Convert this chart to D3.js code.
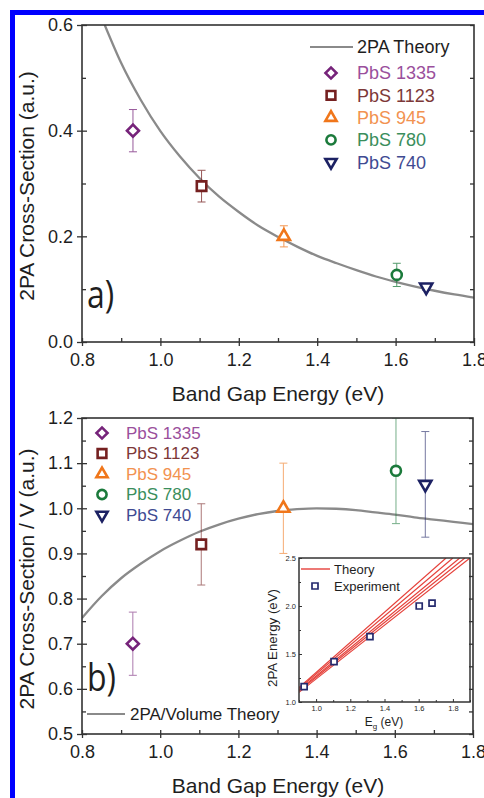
<!DOCTYPE html>
<html>
<head>
<meta charset="utf-8">
<script src="https://cdn.jsdelivr.net/npm/d3@7"></script>
<style>
  body { margin: 0; background: #fff; }
  text { font-family: "Liberation Sans", Arial, sans-serif; fill: #1e1e1e; }
</style>
</head>
<body>
<svg id="chart" width="484" height="798"></svg>
<script>
// samples and measured values
const samples = ["PbS 1335", "PbS 1123", "PbS 945", "PbS 780", "PbS 740"];
const bandGap = [0.93, 1.105, 1.315, 1.603, 1.678];
const crossSection = [0.40, 0.295, 0.200, 0.127, 0.104];
const crossSectionErr = [0.04, 0.03, 0.02, 0.022, 0.006];
const perVolume = [0.70, 0.92, 1.00, 1.083, 1.053];
const perVolumeErr = [0.07, 0.09, 0.10, 0.117, 0.117];

// theory curve, panel a
const theoryEg = [0.858, 0.90, 0.95, 1.00, 1.05, 1.10, 1.15, 1.20, 1.25, 1.30, 1.35, 1.40, 1.45, 1.50, 1.55, 1.60, 1.65, 1.70, 1.75, 1.80];
const theoryCross = [0.600, 0.528, 0.458, 0.399, 0.351, 0.310, 0.275, 0.246, 0.220, 0.199, 0.180, 0.163, 0.149, 0.136, 0.124, 0.114, 0.105, 0.097, 0.090, 0.084];

// theory curve, panel b
const volumeEg = [0.80, 0.85, 0.90, 0.95, 1.00, 1.05, 1.10, 1.15, 1.20, 1.25, 1.30, 1.35, 1.40, 1.45, 1.50, 1.55, 1.60, 1.65, 1.70, 1.75, 1.80];
const volumeTheory = [0.757, 0.805, 0.845, 0.877, 0.905, 0.928, 0.948, 0.964, 0.977, 0.987, 0.994, 0.998, 1.000, 0.999, 0.996, 0.991, 0.986, 0.980, 0.975, 0.970, 0.965];

// inset: 2PA energy vs Eg
const insetEnergy = [1.16, 1.42, 1.68, 2.00, 2.03];
const insetLineStart = [1.15, 1.14, 1.125, 1.115, 1.10];   // 2PA energy at Eg = 0.9
const insetLineEndEg = [1.76, 1.80, 1.84, 1.87, 1.90];      // Eg where 2PA energy = 2.5

const xTicks = [0.8, 1.0, 1.2, 1.4, 1.6, 1.8];
const xMinor = [0.9, 1.1, 1.3, 1.5, 1.7];
const yTicksA = [0.0, 0.2, 0.4, 0.6];
const yMinorA = [0.1, 0.3, 0.5];
const yTicksB = [0.5, 0.6, 0.7, 0.8, 0.9, 1.0, 1.1, 1.2];
const yMinorB = [0.55, 0.65, 0.75, 0.85, 0.95, 1.05, 1.15];
const insetXTicks = [1.0, 1.2, 1.4, 1.6, 1.8];
const insetYTicks = [1.0, 1.5, 2.0, 2.5];

const colors = ["#76237a", "#752020", "#f0761a", "#1b7a3b", "#1c2163"];
const textColors = ["#9a4f9c", "#7d3838", "#f29250", "#3a8e5c", "#404a92"];
const shapes = ["diamond", "square", "triangle", "circle", "triangleDown"];

const svg = d3.select("#chart");
svg.append("rect").attr("width", 484).attr("height", 798).attr("fill", "#fff");
// blue frame of the figure
svg.append("rect").attr("x", 10).attr("y", 10).attr("width", 474).attr("height", 5).attr("fill", "#0000ff");
svg.append("rect").attr("x", 10).attr("y", 10).attr("width", 5).attr("height", 788).attr("fill", "#0000ff");

function symbolPath(shape, size) {
  if (shape === "diamond") return { d: d3.symbol(d3.symbolSquare, size)(), rot: 45 };
  if (shape === "square") return { d: d3.symbol(d3.symbolSquare, size)(), rot: 0 };
  if (shape === "circle") return { d: d3.symbol(d3.symbolCircle, size)(), rot: 0 };
  if (shape === "triangle") return { d: d3.symbol(d3.symbolTriangle, size)(), rot: 0 };
  return { d: d3.symbol(d3.symbolTriangle, size)(), rot: 180 };
}
const markerSize = { diamond: 72, square: 90, circle: 78, triangle: 64, triangleDown: 64 };

function drawMarker(g, shape, cx, cy, color, scale) {
  const s = symbolPath(shape, markerSize[shape] * scale);
  g.append("path").attr("d", s.d)
    .attr("transform", `translate(${cx},${cy}) rotate(${s.rot})`)
    .attr("fill", "#fff").attr("stroke", color).attr("stroke-width", 2.6);
}

function frameAxes(x, y, yTicks, yMinor, fmtY) {
  const [x0, x1] = x.range();
  const [y0, y1] = y.range();
  const g = svg.append("g");
  // bottom axis
  const ax = g.append("g").attr("transform", `translate(0,${y0})`)
    .call(d3.axisBottom(x).tickValues(xTicks).tickFormat(d3.format(".1f")).tickSize(4).tickPadding(7));
  ax.selectAll(".tick line").attr("y1", -4).attr("y2", 4);
  g.append("g").attr("transform", `translate(0,${y0})`)
    .call(d3.axisBottom(x).tickValues(xMinor).tickFormat("").tickSize(-4));
  // left axis
  const ay = g.append("g").attr("transform", `translate(${x0},0)`)
    .call(d3.axisLeft(y).tickValues(yTicks).tickFormat(fmtY).tickSize(5).tickPadding(4));
  ay.selectAll(".tick line").attr("x1", 5);
  g.append("g").attr("transform", `translate(${x0},0)`)
    .call(d3.axisLeft(y).tickValues(yMinor).tickFormat("").tickSize(-4));
  // right axis ticks inward
  g.append("g").attr("transform", `translate(${x1},0)`)
    .call(d3.axisRight(y).tickValues(yTicks.concat(yMinor)).tickFormat("").tickSize(-4));
  g.selectAll(".domain").remove();
  g.selectAll("line").attr("stroke", "#333").attr("stroke-width", 1.3);
  g.selectAll("text").attr("font-size", 18).attr("fill", "#1e1e1e")
    .style("font-family", '"Liberation Sans", Arial, sans-serif');
  g.append("rect").attr("x", x0).attr("y", y1).attr("width", x1 - x0).attr("height", y0 - y1)
    .attr("fill", "none").attr("stroke", "#333").attr("stroke-width", 1.6);
  return g;
}

// ---------- panel a ----------
const xA = d3.scaleLinear().domain([0.8, 1.8]).range([82, 474]);
const yA = d3.scaleLinear().domain([0, 0.6]).range([342, 25]);

const defs = svg.append("defs");
defs.append("clipPath").attr("id", "clipA")
  .append("rect").attr("x", 82).attr("y", 25).attr("width", 392).attr("height", 317);

svg.append("path")
  .datum(theoryEg.map((e, i) => [e, theoryCross[i]]))
  .attr("clip-path", "url(#clipA)")
  .attr("fill", "none").attr("stroke", "#8a8a8a").attr("stroke-width", 2.3)
  .attr("d", d3.line().x(d => xA(d[0])).y(d => yA(d[1])).curve(d3.curveMonotoneX));

frameAxes(xA, yA, yTicksA, yMinorA, d3.format(".1f"));

const ptsA = svg.append("g");
samples.forEach((s, i) => {
  const cx = xA(bandGap[i]);
  const eg = ptsA.append("g").attr("stroke", colors[i]).attr("stroke-width", 1).attr("opacity", 0.75);
  eg.append("line").attr("x1", cx).attr("x2", cx)
    .attr("y1", yA(crossSection[i] + crossSectionErr[i])).attr("y2", yA(crossSection[i] - crossSectionErr[i]));
  [crossSection[i] + crossSectionErr[i], crossSection[i] - crossSectionErr[i]].forEach(v => {
    eg.append("line").attr("x1", cx - 4).attr("x2", cx + 4).attr("y1", yA(v)).attr("y2", yA(v));
  });
  drawMarker(ptsA, shapes[i], cx, yA(crossSection[i]), colors[i], 1);
});

// legend a
const legA = svg.append("g");
legA.append("line").attr("x1", 310).attr("x2", 353).attr("y1", 47).attr("y2", 47)
  .attr("stroke", "#8a8a8a").attr("stroke-width", 2.2);
legA.append("text").attr("x", 357).attr("y", 47).attr("dy", "0.35em").attr("font-size", 18).text("2PA Theory");
samples.forEach((s, i) => {
  const y = 73 + i * 22.3;
  drawMarker(legA, shapes[i], 331, y, colors[i], 0.85);
  legA.append("text").attr("x", 357).attr("y", y).attr("dy", "0.35em").attr("font-size", 18)
    .style("fill", textColors[i]).text(s);
});

svg.append("text").attr("transform", "translate(87,308) scale(0.82,1)")
  .style("font-family", '"Open Sans", sans-serif').attr("font-size", 39).text("a)");

svg.append("text").attr("x", 278).attr("y", 401).attr("text-anchor", "middle").attr("font-size", 21)
  .text("Band Gap Energy (eV)");
svg.append("text").attr("transform", "translate(34,186) rotate(-90)").attr("text-anchor", "middle")
  .attr("font-size", 21).text("2PA Cross-Section (a.u.)");

// ---------- panel b ----------
const xB = d3.scaleLinear().domain([0.8, 1.8]).range([82, 473]);
const yB = d3.scaleLinear().domain([0.5, 1.2]).range([734, 418]);

defs.append("clipPath").attr("id", "clipB")
  .append("rect").attr("x", 82).attr("y", 418).attr("width", 391).attr("height", 316);

svg.append("path")
  .datum(volumeEg.map((e, i) => [e, volumeTheory[i]]))
  .attr("clip-path", "url(#clipB)")
  .attr("fill", "none").attr("stroke", "#8a8a8a").attr("stroke-width", 2.3)
  .attr("d", d3.line().x(d => xB(d[0])).y(d => yB(d[1])).curve(d3.curveMonotoneX));

const errB = svg.append("g").attr("clip-path", "url(#clipB)");
samples.forEach((s, i) => {
  const cx = xB(bandGap[i]);
  const eg = errB.append("g").attr("stroke", colors[i]).attr("stroke-width", 1).attr("opacity", 0.6);
  const hi = perVolume[i] + perVolumeErr[i], lo = perVolume[i] - perVolumeErr[i];
  eg.append("line").attr("x1", cx).attr("x2", cx).attr("y1", yB(hi)).attr("y2", yB(lo));
  [hi, lo].forEach(v => {
    eg.append("line").attr("x1", cx - 4).attr("x2", cx + 4).attr("y1", yB(v)).attr("y2", yB(v));
  });
});

// inset
const xI = d3.scaleLinear().domain([0.9, 1.9]).range([299, 470]);
const yI = d3.scaleLinear().domain([1.0, 2.5]).range([702, 558]);
svg.append("rect").attr("x", 299).attr("y", 558).attr("width", 171).attr("height", 144).attr("fill", "#fff");
defs.append("clipPath").attr("id", "clipI")
  .append("rect").attr("x", 299).attr("y", 558).attr("width", 171).attr("height", 144);

const inset = svg.append("g");
insetLineStart.forEach((v, k) => {
  inset.append("line").attr("clip-path", "url(#clipI)")
    .attr("x1", xI(0.9)).attr("y1", yI(v)).attr("x2", xI(insetLineEndEg[k])).attr("y2", yI(2.5))
    .attr("stroke", "#e5403a").attr("stroke-width", 1.2);
});
bandGap.forEach((e, i) => {
  inset.append("path").attr("d", d3.symbol(d3.symbolSquare, 36)())
    .attr("transform", `translate(${xI(e)},${yI(insetEnergy[i])})`)
    .attr("fill", "#fff").attr("stroke", "#252a6e").attr("stroke-width", 1.7);
});
inset.append("g").attr("transform", "translate(0,702)")
  .call(d3.axisBottom(xI).tickValues(insetXTicks).tickFormat(d3.format(".1f")).tickSize(-3).tickPadding(4));
inset.append("g").attr("transform", "translate(0,702)")
  .call(d3.axisBottom(xI).tickValues([0.9, 1.1, 1.3, 1.5, 1.7, 1.9]).tickFormat("").tickSize(-2));
inset.append("g").attr("transform", "translate(299,0)")
  .call(d3.axisLeft(yI).tickValues(insetYTicks).tickFormat(d3.format(".1f")).tickSize(-3).tickPadding(3));
inset.append("g").attr("transform", "translate(299,0)")
  .call(d3.axisLeft(yI).tickValues([1.25, 1.75, 2.25]).tickFormat("").tickSize(-2));
inset.selectAll(".domain").remove();
inset.selectAll(".tick line").attr("stroke", "#333");
inset.selectAll(".tick text").attr("font-size", 7.5).attr("fill", "#444")
  .style("font-family", '"Liberation Sans", Arial, sans-serif');
inset.append("rect").attr("x", 299).attr("y", 558).attr("width", 171).attr("height", 144)
  .attr("fill", "none").attr("stroke", "#333").attr("stroke-width", 1.5);
inset.append("line").attr("x1", 301).attr("x2", 330).attr("y1", 569).attr("y2", 569)
  .attr("stroke", "#e5403a").attr("stroke-width", 1.4);
inset.append("text").attr("x", 334).attr("y", 569).attr("dy", "0.35em").attr("font-size", 13).text("Theory");
inset.append("path").attr("d", d3.symbol(d3.symbolSquare, 36)())
  .attr("transform", "translate(315,586)").attr("fill", "#fff").attr("stroke", "#252a6e").attr("stroke-width", 1.7);
inset.append("text").attr("x", 334).attr("y", 586).attr("dy", "0.35em").attr("font-size", 13).text("Experiment");
inset.append("text").attr("transform", "translate(277,638) rotate(-90)").attr("text-anchor", "middle")
  .attr("font-size", 12).attr("textLength", 98).attr("lengthAdjust", "spacingAndGlyphs").text("2PA Energy (eV)");
const eLab = inset.append("text").attr("x", 384).attr("y", 726).attr("text-anchor", "middle").attr("font-size", 12);
eLab.append("tspan").text("E");
eLab.append("tspan").attr("font-size", 8).attr("dy", 3).text("g");
eLab.append("tspan").attr("dy", -3).text(" (eV)");

frameAxes(xB, yB, yTicksB, yMinorB, d3.format(".1f"));

const ptsB = svg.append("g");
samples.forEach((s, i) => {
  drawMarker(ptsB, shapes[i], xB(bandGap[i]), yB(perVolume[i]), colors[i], 1);
});

// legend b
const legB = svg.append("g");
samples.forEach((s, i) => {
  const y = 433 + i * 20.5;
  drawMarker(legB, shapes[i], 102, y, colors[i], 0.85);
  legB.append("text").attr("x", 126).attr("y", y).attr("dy", "0.35em").attr("font-size", 17)
    .style("fill", textColors[i]).text(s);
});
legB.append("line").attr("x1", 87).attr("x2", 125).attr("y1", 714).attr("y2", 714)
  .attr("stroke", "#8a8a8a").attr("stroke-width", 2.2);
legB.append("text").attr("x", 130).attr("y", 714).attr("dy", "0.35em").attr("font-size", 17).text("2PA/Volume Theory");

svg.append("text").attr("transform", "translate(87,691) scale(0.82,1)")
  .style("font-family", '"Open Sans", sans-serif').attr("font-size", 39).text("b)");

svg.append("text").attr("x", 278).attr("y", 793).attr("text-anchor", "middle").attr("font-size", 21)
  .text("Band Gap Energy (eV)");
svg.append("text").attr("transform", "translate(34,579) rotate(-90)").attr("text-anchor", "middle")
  .attr("font-size", 21).text("2PA Cross-Section / V (a.u.)");
</script>
</body>
</html>
